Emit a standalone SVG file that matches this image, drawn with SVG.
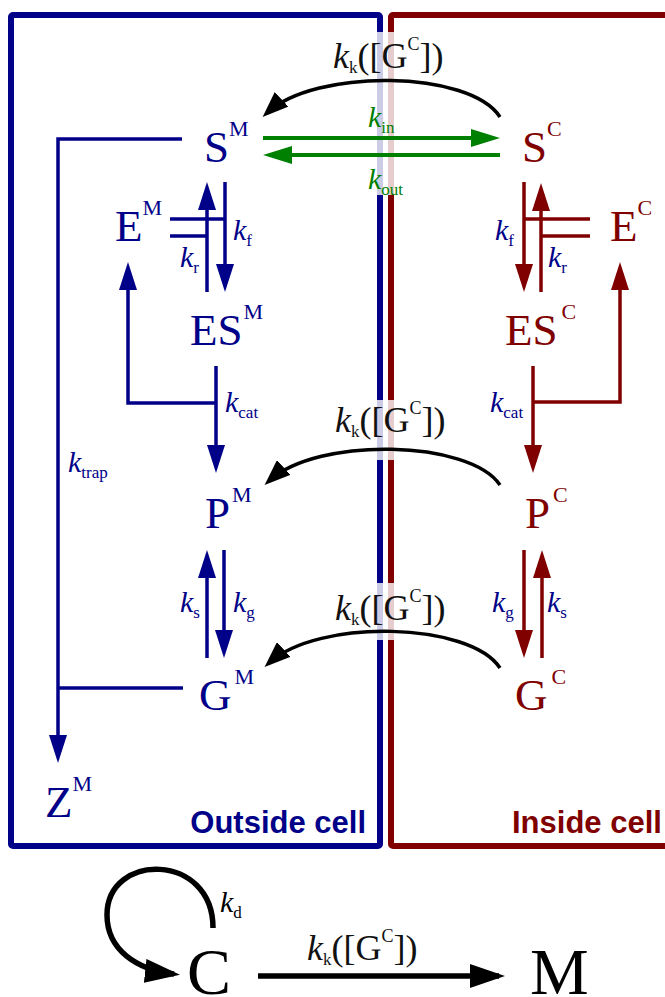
<svg xmlns="http://www.w3.org/2000/svg" width="665" height="997" viewBox="0 0 665 997">
<style>
.n{font-family:"Liberation Serif","Times New Roman",serif;font-size:45px}
.sup{font-size:22px}
.bl{fill:#000088}
.rd{fill:#800000}
.gr{fill:#008000}
.bk{fill:#000}
.r{font-family:"Liberation Serif","Times New Roman",serif;font-size:30px}
.kk{font-family:"Liberation Serif","Times New Roman",serif;font-size:36px;fill:#111}
.it{font-style:italic}
.sb{font-size:17px}
.sp{font-size:18px}
.lbl{font-family:"Liberation Sans",Arial,sans-serif;font-weight:bold;font-size:31px}
.lb{stroke:#000088;stroke-width:3.5;fill:none}
.lr{stroke:#800000;stroke-width:3.5;fill:none}
.lg{stroke:#008000;stroke-width:4;fill:none}
.lk{stroke:#000;stroke-width:3.5;fill:none}
.lk2{stroke:#000;stroke-width:5.5;fill:none}
</style>
<defs>
<marker id="aB" markerUnits="userSpaceOnUse" markerWidth="28" markerHeight="18" refX="22" refY="9" orient="auto"><path d="M0,0 L28,9 L0,18 z" fill="#000088"/></marker>
<marker id="aR" markerUnits="userSpaceOnUse" markerWidth="28" markerHeight="18" refX="22" refY="9" orient="auto"><path d="M0,0 L28,9 L0,18 z" fill="#800000"/></marker>
<marker id="aG" markerUnits="userSpaceOnUse" markerWidth="29" markerHeight="18" refX="23" refY="9" orient="auto"><path d="M0,0 L29,9 L0,18 z" fill="#008000"/></marker>
<marker id="aK" markerUnits="userSpaceOnUse" markerWidth="26" markerHeight="20" refX="20" refY="10" orient="auto"><path d="M0,0 L26,10 L0,20 z" fill="#000"/></marker>
<marker id="aK2" markerUnits="userSpaceOnUse" markerWidth="35" markerHeight="24" refX="29" refY="12" orient="auto"><path d="M0,0 L35,12 L0,24 z" fill="#000"/></marker>
</defs>
<rect width="665" height="997" fill="#fff"/>
<g id="compartments">
<rect x="11" y="15" width="369" height="831" fill="none" stroke="#000088" stroke-width="6" rx="2"/>
<rect x="391" y="15" width="300" height="831" fill="none" stroke="#800000" stroke-width="6" rx="2"/>
<rect x="372" y="32" width="28" height="163" fill="#fff" opacity="0.8"/>
<rect x="372" y="400" width="28" height="60" fill="#fff" opacity="0.8"/>
<rect x="372" y="583" width="28" height="57" fill="#fff" opacity="0.8"/>
<text class="lbl bl" x="366" y="833" text-anchor="end">Outside cell</text>
<text class="lbl rd" x="512" y="833">Inside cell</text>
</g>
<g id="connectors">
<path class="lb" d="M207,292 V188" marker-end="url(#aB)"/>
<path class="lb" d="M225,182 V286" marker-end="url(#aB)"/>
<path class="lb" d="M170,219 H225 M170,236 H207"/>
<path class="lb" d="M216,403 H128 V268" marker-end="url(#aB)"/>
<path class="lb" d="M216,366 V467" marker-end="url(#aB)"/>
<path class="lb" d="M207,658 V556" marker-end="url(#aB)"/>
<path class="lb" d="M224,550 V652" marker-end="url(#aB)"/>
<path class="lb" d="M182,139 H58 V757" marker-end="url(#aB)"/>
<path class="lb" d="M183,688 H58"/>
<path class="lr" d="M524,182 V286" marker-end="url(#aR)"/>
<path class="lr" d="M541,292 V189" marker-end="url(#aR)"/>
<path class="lr" d="M590,219 H524 M590,236 H541"/>
<path class="lr" d="M533,402 H620 V268" marker-end="url(#aR)"/>
<path class="lr" d="M533,366 V467" marker-end="url(#aR)"/>
<path class="lr" d="M524,550 V652" marker-end="url(#aR)"/>
<path class="lr" d="M542,658 V556" marker-end="url(#aR)"/>
<path class="lg" d="M263,138 H494" marker-end="url(#aG)"/>
<path class="lg" d="M500,155 H269" marker-end="url(#aG)"/>
<path class="lk" d="M500,117 C470,70 315,68 267,113" marker-end="url(#aK)"/>
<path class="lk" d="M500,485 C470,440 318,436 269,481" marker-end="url(#aK)"/>
<path class="lk" d="M500,668 C470,622 318,618 269,663" marker-end="url(#aK)"/>
<path class="lk2" d="M258,976 H499" marker-end="url(#aK2)"/>
<path class="lk2" d="M213,928 C213,852 107,852 107,915 C107,950 137,970 174,974" marker-end="url(#aK2)"/>
<text class="r bl" x="233" y="240"><tspan class="it">k</tspan><tspan class="sb" dy="6">f</tspan></text>
<text class="r bl" x="180" y="267"><tspan class="it">k</tspan><tspan class="sb" dy="6">r</tspan></text>
<text class="r bl" x="495" y="240"><tspan class="it">k</tspan><tspan class="sb" dy="6">f</tspan></text>
<text class="r bl" x="548" y="267"><tspan class="it">k</tspan><tspan class="sb" dy="6">r</tspan></text>
<text class="r bl" x="225" y="412"><tspan class="it">k</tspan><tspan class="sb" dy="6">cat</tspan></text>
<text class="r bl" x="490" y="412"><tspan class="it">k</tspan><tspan class="sb" dy="6">cat</tspan></text>
<text class="r bl" x="180" y="612"><tspan class="it">k</tspan><tspan class="sb" dy="6">s</tspan></text>
<text class="r bl" x="233" y="612"><tspan class="it">k</tspan><tspan class="sb" dy="6">g</tspan></text>
<text class="r bl" x="492" y="612"><tspan class="it">k</tspan><tspan class="sb" dy="6">g</tspan></text>
<text class="r bl" x="547" y="612"><tspan class="it">k</tspan><tspan class="sb" dy="6">s</tspan></text>
<text class="r bl" x="68" y="472"><tspan class="it">k</tspan><tspan class="sb" dy="6">trap</tspan></text>
<text class="r gr" x="368" y="127"><tspan class="it">k</tspan><tspan class="sb" dy="6">in</tspan></text>
<text class="r gr" x="368" y="189"><tspan class="it">k</tspan><tspan class="sb" dy="6">out</tspan></text>
<text class="r bk" x="220" y="912"><tspan class="it">k</tspan><tspan class="sb" dy="6">d</tspan></text>
<text class="kk" x="333" y="68"><tspan class="it">k</tspan><tspan class="sb" dy="5">k</tspan><tspan dy="-5">([G</tspan><tspan class="sp" dy="-18">C</tspan><tspan dy="18">])</tspan></text>
<text class="kk" x="335" y="432"><tspan class="it">k</tspan><tspan class="sb" dy="5">k</tspan><tspan dy="-5">([G</tspan><tspan class="sp" dy="-18">C</tspan><tspan dy="18">])</tspan></text>
<text class="kk" x="335" y="620"><tspan class="it">k</tspan><tspan class="sb" dy="5">k</tspan><tspan dy="-5">([G</tspan><tspan class="sp" dy="-18">C</tspan><tspan dy="18">])</tspan></text>
<text class="kk" x="307" y="960"><tspan class="it">k</tspan><tspan class="sb" dy="5">k</tspan><tspan dy="-5">([G</tspan><tspan class="sp" dy="-18">C</tspan><tspan dy="18">])</tspan></text>
</g>
<g id="SM"><text class="n bl" x="204" y="162">S<tspan class="sup" dy="-26">M</tspan></text></g>
<g id="SC"><text class="n rd" x="522" y="162">S<tspan class="sup" dy="-26">C</tspan></text></g>
<g id="EM"><text class="n bl" x="115" y="241">E<tspan class="sup" dy="-26">M</tspan></text></g>
<g id="EC"><text class="n rd" x="610" y="241">E<tspan class="sup" dy="-26">C</tspan></text></g>
<g id="ESM"><text class="n bl" x="190" y="345">ES<tspan class="sup" dx="1" dy="-26">M</tspan></text></g>
<g id="ESC"><text class="n rd" x="505" y="345">ES<tspan class="sup" dx="4" dy="-26">C</tspan></text></g>
<g id="PM"><text class="n bl" x="205" y="528">P<tspan class="sup" dx="2" dy="-26">M</tspan></text></g>
<g id="PC"><text class="n rd" x="525" y="528">P<tspan class="sup" dx="3" dy="-26">C</tspan></text></g>
<g id="GM"><text class="n bl" x="199" y="710">G<tspan class="sup" dx="3" dy="-26">M</tspan></text></g>
<g id="GC"><text class="n rd" x="515" y="710">G<tspan class="sup" dx="4" dy="-26">C</tspan></text></g>
<g id="ZM"><text class="n bl" x="45" y="817">Z<tspan class="sup" dy="-26">M</tspan></text></g>
<g id="C"><text class="n bk" x="187" y="994" style="font-size:66px">C</text></g>
<g id="M"><text class="n bk" x="530" y="994" style="font-size:66px">M</text></g>
</svg>
